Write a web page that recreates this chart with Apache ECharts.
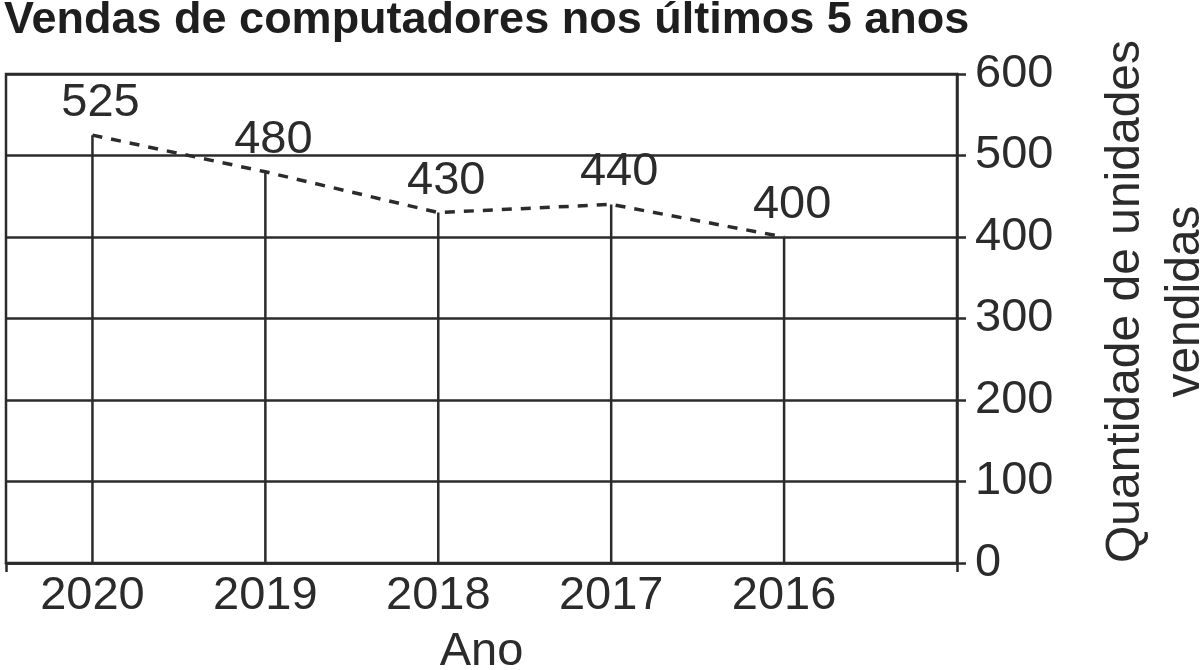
<!DOCTYPE html>
<html>
<head>
<meta charset="utf-8">
<title>Vendas de computadores</title>
<script src="https://cdn.jsdelivr.net/npm/echarts@6.0.0/dist/echarts.min.js"></script>
<style>
  html, body { margin: 0; padding: 0; background: #fff; }
  #chart { width: 1200px; height: 670px; }
</style>
</head>
<body>
<div id="chart"></div>
<script>
// dados
var years = ['2020', '2019', '2018', '2017', '2016'];
var sales = [525, 480, 430, 440, 400];
var yTicks = [0, 100, 200, 300, 400, 500, 600];

var ink = '#2b2b2b';
var font = 'Liberation Sans, Arial, sans-serif';

// pontos (indice, valor)
var points = years.map(function (y, i) { return [i, sales[i]]; });

var dom = document.getElementById('chart');
var myChart = echarts.init(dom);

var option = {
    animation: false,
    backgroundColor: '#fff',
    title: {
        text: 'Vendas de computadores nos últimos 5 anos',
        left: 4,
        top: -2,
        padding: 0,
        textStyle: { color: '#1e1e1e', fontFamily: font, fontSize: 45, fontWeight: 'bold' }
    },
    grid: {
        left: 6, right: 243, top: 74, bottom: 107,
        outerBoundsMode: 'none',
        containLabel: false,
        show: true, borderColor: ink, borderWidth: 2.5, backgroundColor: 'transparent'
    },
    xAxis: {
        type: 'value',
        min: -0.5,
        max: 5,
        interval: 0.5,
        name: 'Ano',
        nameLocation: 'middle',
        nameGap: 66,
        nameTextStyle: { color: ink, fontFamily: font, fontSize: 47 },
        axisLine: { show: true, onZero: false, lineStyle: { color: ink, width: 2.5 } },
        axisTick: { show: true, length: 9, customValues: [-0.5, 5], lineStyle: { color: ink, width: 2.5 } },
        splitLine: { show: false },
        axisLabel: {
            customValues: [0, 1, 2, 3, 4],
            margin: 10,
            color: ink, fontFamily: font, fontSize: 47,
            formatter: function (v) { return years[Math.round(v)] || ''; }
        }
    },
    yAxis: {
        type: 'value',
        position: 'right',
        min: yTicks[0],
        max: yTicks[yTicks.length - 1],
        interval: 100,
        name: 'Quantidade de unidades\nvendidas',
        nameLocation: 'middle',
        nameRotate: 90,
        nameGap: 139,
        nameTextStyle: {
            color: ink, fontFamily: font, fontSize: 48, lineHeight: 60, align: 'center',
            padding: [0, 0, 0, 34]
        },
        axisLine: { show: true, onZero: false, lineStyle: { color: ink, width: 2.5 } },
        axisTick: { show: true, length: 9, lineStyle: { color: ink, width: 2.5 } },
        splitLine: { show: true, lineStyle: { color: ink, width: 2.5 } },
        axisLabel: { margin: 18, color: ink, fontFamily: font, fontSize: 47 }
    },
    series: [
        {
            // hastes verticais ate o eixo
            type: 'custom',
            data: points,
            renderItem: function (params, api) {
                var top = api.coord([api.value(0), api.value(1)]);
                var base = api.coord([api.value(0), 0]);
                return {
                    type: 'line',
                    shape: { x1: top[0], y1: top[1], x2: base[0], y2: base[1] },
                    style: { stroke: ink, lineWidth: 2.5 }
                };
            },
            z: 3
        },
        {
            type: 'line',
            data: points,
            symbol: 'circle',
            symbolSize: 1,
            itemStyle: { color: 'transparent' },
            lineStyle: { color: ink, width: 3.5, type: [10, 9] },
            label: {
                show: true,
                position: 'top',
                distance: 8,
                offset: [8, 0],
                color: ink, fontFamily: font, fontSize: 47,
                formatter: function (p) { return p.value[1]; }
            },
            z: 4
        }
    ]
};

myChart.setOption(option);
</script>
</body>
</html>
